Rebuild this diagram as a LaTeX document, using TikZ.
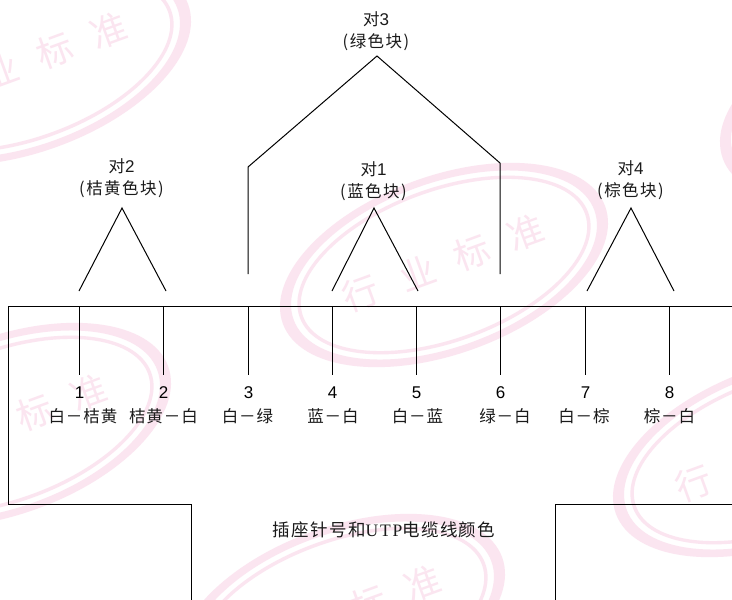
\documentclass[tikz,border=0pt]{standalone}
\usepackage{fontspec}
\setmainfont{Liberation Sans}
\newfontfamily\cjk[LetterSpace=6]{Noto Sans CJK SC}
\newfontfamily\cjkp[LetterSpace=9]{Noto Sans CJK SC}
\newfontfamily\cjkc[LetterSpace=8]{Noto Sans CJK SC}
\newfontfamily\cjkwm{Noto Sans CJK SC}
\newfontfamily\capser[LetterSpace=10]{Liberation Serif}
\definecolor{wmpink}{HTML}{FBE5F0}
\definecolor{inkc}{HTML}{1A1A1A}
\tikzset{
  wmband/.style={fill=wmpink,draw=none,even odd rule},
  wmchar/.style={text=wmpink,inner sep=0pt,font={\fontsize{36}{36}\cjkwm}},
  wire/.style={draw=black,line width=1pt,line join=miter},
  numlab/.style={inner sep=0pt,text=black,font={\fontsize{17}{20}\selectfont}},
  collab/.style={inner sep=0pt,text=inkc,font={\fontsize{16.5}{20}\cjk}},
  pairlab/.style={inner sep=0pt,text=inkc,align=center,font={\fontsize{16.5}{22}\cjkp}},
  caplab/.style={inner sep=0pt,text=inkc,font={\fontsize{17.5}{20}\cjkc}}
}
\newcommand{\wmark}[2]{%
  \begin{scope}[shift={(#1,#2)},x=1pt,y=1pt,rotate=20]
    \fill[wmband] (0,0) ellipse [x radius=171.5pt,y radius=89pt] (0,0) ellipse [x radius=160pt,y radius=82pt];
    \fill[wmband] (0,0) ellipse [x radius=153.5pt,y radius=77pt] (0,0) ellipse [x radius=150pt,y radius=73.5pt];
    \node[wmchar,rotate=20] at (-88,2) {行};
    \node[wmchar,rotate=20] at (-28,2) {业};
    \node[wmchar,rotate=20] at (30,2) {标};
    \node[wmchar,rotate=20] at (88,2) {准};
  \end{scope}}
\newcommand{\pairtxt}[2]{{\fontsize{16.5}{22}\cjkp 对\normalfont\fontsize{17}{22}\selectfont #1}\\(#2)}
\begin{document}
\begin{tikzpicture}[x=1pt,y=-1pt]
\useasboundingbox (0,0) rectangle (732,600);
\begin{scope}
\clip (0,0) rectangle (732,600);
\fill[white] (0,0) rectangle (732,600);
\wmark{27}{63}
\wmark{444}{265}
\wmark{7}{425}
\wmark{341}{616}
\wmark{777}{455}
\wmark{884}{100}
\end{scope}
% outline
\coordinate (tl) at (8,306);
\coordinate (tr) at (732,306);
\coordinate (bl) at (8,504);
\coordinate (n1) at (191,504);
\coordinate (n2) at (191,600);
\coordinate (m1) at (555,600);
\coordinate (m2) at (555,504);
\coordinate (m3) at (732,504);
\draw[wire] (tr) -- (tl) -- (bl) -- (n1) -- (n2);
\draw[wire] (m1) -- (m2) -- (m3);
% pins
\foreach \i/\x/\c/\lx in {1/79/白－桔黄/83,2/163/桔黄－白/163.5,3/248/白－绿/247.5,4/332/蓝－白/333,5/416/白－蓝/417.5,6/500/绿－白/505,7/585/白－棕/584,8/669/棕－白/669.5}{
  \coordinate (pt\i) at (\x,306);
  \coordinate (pb\i) at (\x,375);
  \draw[wire] (pt\i) -- (pb\i);
  \node[numlab] (num\i) at (\x+0.5,393) {\i};
  \node[collab] (col\i) at (\lx,416) {\c};
}
% pair 3
\coordinate (a3l) at (248,274);
\coordinate (a3m) at (248,167);
\coordinate (a3) at (377,56);
\coordinate (a3n) at (500,163);
\coordinate (a3r) at (500,274);
\draw[wire] (a3l) -- (a3m) -- (a3) -- (a3n) -- (a3r);
\node[pairlab] (p3) at (376,31) {\pairtxt{3}{绿色块}};
% pairs 2,1,4
\foreach \nm/\ax/\lx/\rx/\ly/\c in {2/122/79/166/178.5/桔黄色块,1/374/332/418/181/蓝色块,4/631/587/674/180.5/棕色块}{
  \coordinate (a\nm) at (\ax,208);
  \coordinate (al\nm) at (\lx,291);
  \coordinate (ar\nm) at (\rx,291);
  \draw[wire] (al\nm) -- (a\nm) -- (ar\nm);
  \node[pairlab] (p\nm) at (\ax-0.5,\ly) {\pairtxt{\nm}{\c}};
}
\node[caplab] (cap) at (384,530) {插座针号和{\capser UTP}电缆线颜色};
\end{tikzpicture}
\end{document}
